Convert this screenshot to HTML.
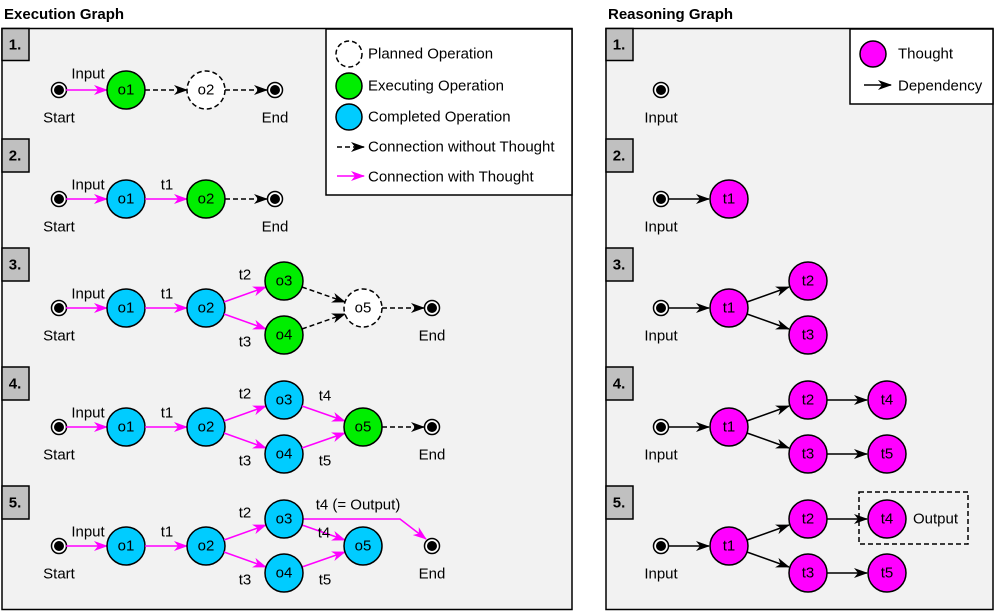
<!DOCTYPE html>
<html><head><meta charset="utf-8"><style>
html,body{margin:0;padding:0;background:#fff;}
svg{display:block;font-family:"Liberation Sans",Arial,sans-serif;}
text{font-size:15px;fill:#000;}
.t{text-anchor:middle;dominant-baseline:central;}
.b{font-weight:bold;}
</style></head><body>
<svg width="996" height="611" viewBox="0 0 996 611" xmlns="http://www.w3.org/2000/svg">
<defs>
<marker id="ak" viewBox="0 0 14 10" refX="13" refY="5" markerWidth="14" markerHeight="10" markerUnits="userSpaceOnUse" orient="auto"><path d="M0,0 L14,5 L0,10 L4,5 z" fill="#000"/></marker>
<marker id="am" viewBox="0 0 14 10" refX="13" refY="5" markerWidth="14" markerHeight="10" markerUnits="userSpaceOnUse" orient="auto"><path d="M0,0 L14,5 L0,10 L4,5 z" fill="#f0f"/></marker>
<g id="se"><circle r="7.5" fill="#fff" stroke="#000" stroke-width="1.5"/><circle r="5" fill="#000"/></g>
</defs>
<g stroke-width="1.5">
<text x="4" y="19" class="b" style="font-size:15px">Execution Graph</text>
<text x="608" y="19" class="b" style="font-size:15px">Reasoning Graph</text>
<rect x="2" y="28.5" width="570" height="581" fill="#f2f2f2" stroke="#000"/>
<rect x="606" y="28.5" width="387" height="581" fill="#f2f2f2" stroke="#000"/>
<g fill="#c0c0c0" stroke="#000">
<rect x="2" y="28.5" width="27" height="32"/><rect x="2" y="139" width="27" height="33"/><rect x="2" y="248" width="27" height="33"/><rect x="2" y="367" width="27" height="33"/><rect x="2" y="486" width="27" height="33"/>
<rect x="606" y="28.5" width="27" height="32"/><rect x="606" y="139" width="27" height="33"/><rect x="606" y="248" width="27" height="33"/><rect x="606" y="367" width="27" height="33"/><rect x="606" y="486" width="27" height="33"/>
</g>
<g class="b">
<text x="15" y="45" class="t b">1.</text><text x="15" y="156" class="t b">2.</text><text x="15" y="265" class="t b">3.</text><text x="15" y="384" class="t b">4.</text><text x="15" y="503" class="t b">5.</text>
<text x="619" y="45" class="t b">1.</text><text x="619" y="156" class="t b">2.</text><text x="619" y="265" class="t b">3.</text><text x="619" y="384" class="t b">4.</text><text x="619" y="503" class="t b">5.</text>
</g>
<rect x="326" y="29" width="246" height="166" fill="#fff" stroke="#000"/>
<circle cx="349" cy="54" r="13" fill="#fff" stroke="#000" stroke-dasharray="5,3"/>
<circle cx="349" cy="86" r="13" fill="#00ee00" stroke="#000"/>
<circle cx="349" cy="117" r="13" fill="#00ccff" stroke="#000"/>
<line x1="337" y1="147" x2="364" y2="147" stroke="#000" stroke-dasharray="5,3" marker-end="url(#ak)"/>
<line x1="337" y1="176" x2="364" y2="176" stroke="#f0f" marker-end="url(#am)"/>
<text x="368" y="54" dominant-baseline="central">Planned Operation</text>
<text x="368" y="86" dominant-baseline="central">Executing Operation</text>
<text x="368" y="117" dominant-baseline="central">Completed Operation</text>
<text x="368" y="147" dominant-baseline="central">Connection without Thought</text>
<text x="368" y="177" dominant-baseline="central">Connection with Thought</text>
<rect x="850" y="29" width="143" height="75" fill="#fff" stroke="#000"/>
<circle cx="873" cy="54" r="13" fill="#f0f" stroke="#000"/>
<text x="898" y="54" dominant-baseline="central">Thought</text>
<line x1="864" y1="85" x2="891" y2="85" stroke="#000" marker-end="url(#ak)"/>
<text x="898" y="86" dominant-baseline="central">Dependency</text>

<use href="#se" x="59" y="90"/><text x="59" y="118" class="t">Start</text>
<line x1="66" y1="90" x2="107" y2="90" stroke="#f0f" marker-end="url(#am)"/><text x="88" y="74" class="t">Input</text>
<circle cx="126" cy="90" r="19" fill="#00ee00" stroke="#000"/><text x="126" y="90" class="t">o1</text>
<line x1="145" y1="90" x2="187" y2="90" stroke="#000" stroke-dasharray="5,3" marker-end="url(#ak)"/>
<circle cx="206" cy="90" r="19" fill="#fff" stroke="#000" stroke-dasharray="5,3"/><text x="206" y="90" class="t">o2</text>
<line x1="225" y1="90" x2="267" y2="90" stroke="#000" stroke-dasharray="5,3" marker-end="url(#ak)"/>
<use href="#se" x="275" y="90"/><text x="275" y="118" class="t">End</text>

<use href="#se" x="59" y="199"/><text x="59" y="227" class="t">Start</text>
<line x1="66" y1="199" x2="107" y2="199" stroke="#f0f" marker-end="url(#am)"/><text x="88" y="185" class="t">Input</text>
<circle cx="126" cy="199" r="19" fill="#00ccff" stroke="#000"/><text x="126" y="199" class="t">o1</text>
<line x1="145" y1="199" x2="187" y2="199" stroke="#f0f" marker-end="url(#am)"/><text x="167" y="185" class="t">t1</text>
<circle cx="206" cy="199" r="19" fill="#00ee00" stroke="#000"/><text x="206" y="199" class="t">o2</text>
<line x1="225" y1="199" x2="267" y2="199" stroke="#000" stroke-dasharray="5,3" marker-end="url(#ak)"/>
<use href="#se" x="275" y="199"/><text x="275" y="227" class="t">End</text>

<use href="#se" x="59" y="308"/><text x="59" y="336" class="t">Start</text>
<line x1="66" y1="308" x2="107" y2="308" stroke="#f0f" marker-end="url(#am)"/><text x="88" y="294" class="t">Input</text>
<circle cx="126" cy="308" r="19" fill="#00ccff" stroke="#000"/><text x="126" y="308" class="t">o1</text>
<line x1="145" y1="308" x2="187" y2="308" stroke="#f0f" marker-end="url(#am)"/><text x="167" y="294" class="t">t1</text>
<circle cx="206" cy="308" r="19" fill="#00ccff" stroke="#000"/><text x="206" y="308" class="t">o2</text>
<line x1="224" y1="302" x2="266" y2="287" stroke="#f0f" marker-end="url(#am)"/><text x="245" y="275" class="t">t2</text>
<line x1="224" y1="314" x2="266" y2="329" stroke="#f0f" marker-end="url(#am)"/><text x="245" y="342" class="t">t3</text>
<circle cx="284" cy="281" r="19" fill="#00ee00" stroke="#000"/><text x="284" y="281" class="t">o3</text>
<circle cx="284" cy="335" r="19" fill="#00ee00" stroke="#000"/><text x="284" y="335" class="t">o4</text>
<line x1="302" y1="287" x2="345" y2="302" stroke="#000" stroke-dasharray="5,3" marker-end="url(#ak)"/>
<line x1="302" y1="329" x2="345" y2="314" stroke="#000" stroke-dasharray="5,3" marker-end="url(#ak)"/>
<circle cx="363" cy="308" r="19" fill="#fff" stroke="#000" stroke-dasharray="5,3"/><text x="363" y="308" class="t">o5</text>
<line x1="382" y1="308" x2="424" y2="308" stroke="#000" stroke-dasharray="5,3" marker-end="url(#ak)"/>
<use href="#se" x="432" y="308"/><text x="432" y="336" class="t">End</text>

<use href="#se" x="59" y="427"/><text x="59" y="455" class="t">Start</text>
<line x1="66" y1="427" x2="107" y2="427" stroke="#f0f" marker-end="url(#am)"/><text x="88" y="413" class="t">Input</text>
<circle cx="126" cy="427" r="19" fill="#00ccff" stroke="#000"/><text x="126" y="427" class="t">o1</text>
<line x1="145" y1="427" x2="187" y2="427" stroke="#f0f" marker-end="url(#am)"/><text x="167" y="413" class="t">t1</text>
<circle cx="206" cy="427" r="19" fill="#00ccff" stroke="#000"/><text x="206" y="427" class="t">o2</text>
<line x1="224" y1="421" x2="266" y2="406" stroke="#f0f" marker-end="url(#am)"/><text x="245" y="394" class="t">t2</text>
<line x1="224" y1="433" x2="266" y2="448" stroke="#f0f" marker-end="url(#am)"/><text x="245" y="461" class="t">t3</text>
<circle cx="284" cy="400" r="19" fill="#00ccff" stroke="#000"/><text x="284" y="400" class="t">o3</text>
<circle cx="284" cy="454" r="19" fill="#00ccff" stroke="#000"/><text x="284" y="454" class="t">o4</text>
<line x1="302" y1="406" x2="345" y2="421" stroke="#f0f" marker-end="url(#am)"/><text x="325" y="396" class="t">t4</text>
<line x1="302" y1="448" x2="345" y2="433" stroke="#f0f" marker-end="url(#am)"/><text x="325" y="461" class="t">t5</text>
<circle cx="363" cy="427" r="19" fill="#00ee00" stroke="#000"/><text x="363" y="427" class="t">o5</text>
<line x1="382" y1="427" x2="424" y2="427" stroke="#000" stroke-dasharray="5,3" marker-end="url(#ak)"/>
<use href="#se" x="432" y="427"/><text x="432" y="455" class="t">End</text>

<use href="#se" x="59" y="546"/><text x="59" y="574" class="t">Start</text>
<line x1="66" y1="546" x2="107" y2="546" stroke="#f0f" marker-end="url(#am)"/><text x="88" y="532" class="t">Input</text>
<circle cx="126" cy="546" r="19" fill="#00ccff" stroke="#000"/><text x="126" y="546" class="t">o1</text>
<line x1="145" y1="546" x2="187" y2="546" stroke="#f0f" marker-end="url(#am)"/><text x="167" y="532" class="t">t1</text>
<circle cx="206" cy="546" r="19" fill="#00ccff" stroke="#000"/><text x="206" y="546" class="t">o2</text>
<line x1="224" y1="540" x2="266" y2="525" stroke="#f0f" marker-end="url(#am)"/><text x="245" y="513" class="t">t2</text>
<line x1="224" y1="552" x2="266" y2="567" stroke="#f0f" marker-end="url(#am)"/><text x="245" y="580" class="t">t3</text>
<polyline points="303,519 400,519 426,539" fill="none" stroke="#f0f" marker-end="url(#am)"/>
<text x="358" y="505" class="t">t4 (= Output)</text>
<line x1="302" y1="525" x2="345" y2="540" stroke="#f0f" marker-end="url(#am)"/><text x="324" y="533" class="t">t4</text>
<line x1="302" y1="567" x2="345" y2="552" stroke="#f0f" marker-end="url(#am)"/><text x="325" y="580" class="t">t5</text>
<circle cx="284" cy="519" r="19" fill="#00ccff" stroke="#000"/><text x="284" y="519" class="t">o3</text>
<circle cx="284" cy="573" r="19" fill="#00ccff" stroke="#000"/><text x="284" y="573" class="t">o4</text>
<circle cx="363" cy="546" r="19" fill="#00ccff" stroke="#000"/><text x="363" y="546" class="t">o5</text>
<use href="#se" x="432" y="546"/><text x="432" y="574" class="t">End</text>

<use href="#se" x="661" y="90"/><text x="661" y="118" class="t">Input</text>
<use href="#se" x="661" y="199"/><text x="661" y="227" class="t">Input</text>
<line x1="668" y1="199" x2="709" y2="199" stroke="#000" marker-end="url(#ak)"/>
<circle cx="729" cy="199" r="19" fill="#f0f" stroke="#000"/><text x="729" y="199" class="t">t1</text>
<use href="#se" x="661" y="308"/><text x="661" y="336" class="t">Input</text>
<line x1="668" y1="308" x2="709" y2="308" stroke="#000" marker-end="url(#ak)"/>
<circle cx="729" cy="308" r="19" fill="#f0f" stroke="#000"/><text x="729" y="308" class="t">t1</text>
<line x1="747" y1="302" x2="789" y2="287" stroke="#000" marker-end="url(#ak)"/>
<line x1="747" y1="314" x2="789" y2="329" stroke="#000" marker-end="url(#ak)"/>
<circle cx="808" cy="281" r="19" fill="#f0f" stroke="#000"/><text x="808" y="281" class="t">t2</text>
<circle cx="808" cy="335" r="19" fill="#f0f" stroke="#000"/><text x="808" y="335" class="t">t3</text>
<use href="#se" x="661" y="427"/><text x="661" y="455" class="t">Input</text>
<line x1="668" y1="427" x2="709" y2="427" stroke="#000" marker-end="url(#ak)"/>
<circle cx="729" cy="427" r="19" fill="#f0f" stroke="#000"/><text x="729" y="427" class="t">t1</text>
<line x1="747" y1="421" x2="789" y2="406" stroke="#000" marker-end="url(#ak)"/>
<line x1="747" y1="433" x2="789" y2="448" stroke="#000" marker-end="url(#ak)"/>
<circle cx="808" cy="400" r="19" fill="#f0f" stroke="#000"/><text x="808" y="400" class="t">t2</text>
<circle cx="808" cy="454" r="19" fill="#f0f" stroke="#000"/><text x="808" y="454" class="t">t3</text>
<line x1="827" y1="400" x2="867" y2="400" stroke="#000" marker-end="url(#ak)"/>
<line x1="827" y1="454" x2="867" y2="454" stroke="#000" marker-end="url(#ak)"/>
<circle cx="887" cy="400" r="19" fill="#f0f" stroke="#000"/><text x="887" y="400" class="t">t4</text>
<circle cx="887" cy="454" r="19" fill="#f0f" stroke="#000"/><text x="887" y="454" class="t">t5</text>
<use href="#se" x="661" y="546"/><text x="661" y="574" class="t">Input</text>
<line x1="668" y1="546" x2="709" y2="546" stroke="#000" marker-end="url(#ak)"/>
<circle cx="729" cy="546" r="19" fill="#f0f" stroke="#000"/><text x="729" y="546" class="t">t1</text>
<line x1="747" y1="540" x2="789" y2="525" stroke="#000" marker-end="url(#ak)"/>
<line x1="747" y1="552" x2="789" y2="567" stroke="#000" marker-end="url(#ak)"/>
<circle cx="808" cy="519" r="19" fill="#f0f" stroke="#000"/><text x="808" y="519" class="t">t2</text>
<circle cx="808" cy="573" r="19" fill="#f0f" stroke="#000"/><text x="808" y="573" class="t">t3</text>
<rect x="859" y="492" width="109" height="52" fill="none" stroke="#000" stroke-dasharray="5,3"/>
<line x1="827" y1="519" x2="867" y2="519" stroke="#000" marker-end="url(#ak)"/>
<line x1="827" y1="573" x2="867" y2="573" stroke="#000" marker-end="url(#ak)"/>
<circle cx="887" cy="519" r="19" fill="#f0f" stroke="#000"/><text x="887" y="519" class="t">t4</text>
<circle cx="887" cy="573" r="19" fill="#f0f" stroke="#000"/><text x="887" y="573" class="t">t5</text>
<text x="913" y="519" dominant-baseline="central">Output</text>
</g>
</svg>
</body></html>
